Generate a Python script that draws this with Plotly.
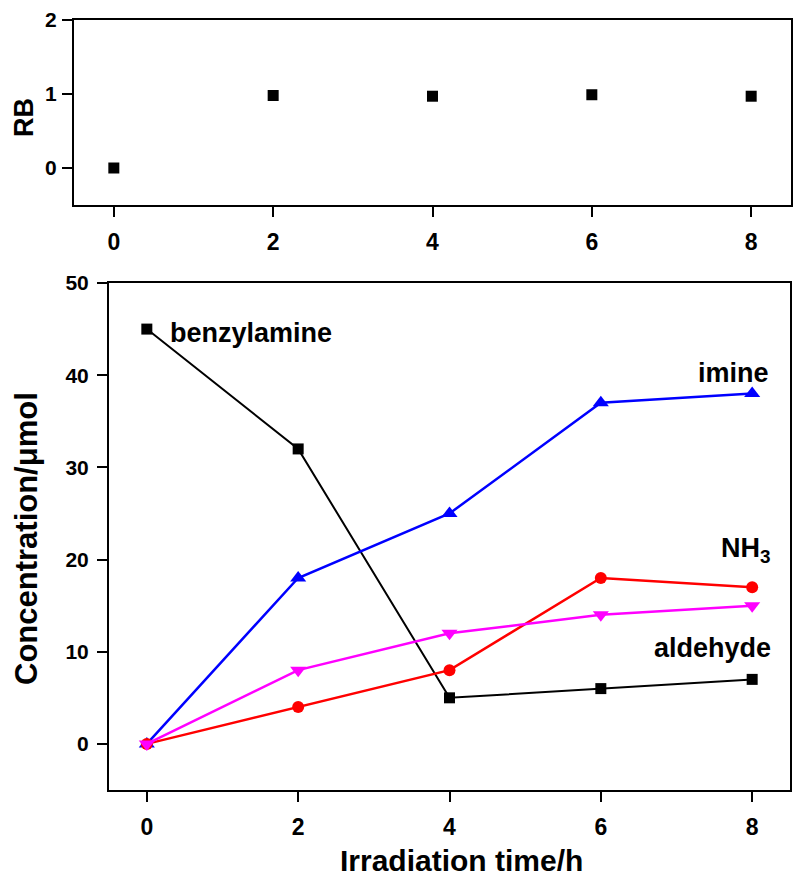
import plotly.graph_objects as go

W, H = 795, 881

time_h = [0, 2, 4, 6, 8]
rb_values = [0.0, 0.98, 0.97, 0.99, 0.97]

benzylamine = [45, 32, 5, 6, 7]
imine = [0, 18, 25, 37, 38]
nh3 = [0, 4, 8, 18, 17]
aldehyde = [0, 8, 12, 14, 15]

x_ticks = [0, 2, 4, 6, 8]
rb_ticks = [0, 1, 2]
conc_ticks = [0, 10, 20, 30, 40, 50]

FONT = "Liberation Sans, Arial, Helvetica, sans-serif"

fig = go.Figure()

# top panel
fig.add_trace(go.Scatter(x=time_h, y=rb_values, mode="markers",
                         marker=dict(symbol="square", size=11, color="black"),
                         xaxis="x", yaxis="y", showlegend=False))

# bottom panel
series = [
    (benzylamine, "black", "square", 11, 2),
    (imine, "#0000ff", "triangle-up", 14, 2.5),
    (nh3, "#ff0000", "circle", 12, 2.5),
    (aldehyde, "#ff00ff", "triangle-down", 14, 2.5),
]
for vals, col, sym, sz, lw in series:
    fig.add_trace(go.Scatter(x=time_h, y=vals, mode="lines+markers",
                             line=dict(color=col, width=lw),
                             marker=dict(symbol=sym, size=sz, color=col),
                             xaxis="x2", yaxis="y2", showlegend=False))

def px_x(p):
    return p / W

def px_y(p):
    return 1 - p / H

axis_common = dict(showline=True, linecolor="black", linewidth=2, mirror=True,
                   ticks="outside", ticklen=10, tickwidth=2, tickcolor="black",
                   showgrid=False, zeroline=False)
xfont = dict(family=FONT, size=23, color="black", weight="bold")
yfont = dict(family=FONT, size=21, color="black", weight="bold")

fig.update_layout(
    width=W, height=H,
    margin=dict(l=0, r=0, t=0, b=0, autoexpand=False),
    paper_bgcolor="white", plot_bgcolor="white",
    xaxis=dict(domain=[px_x(74), px_x(791)], range=[-0.5, 8.5], anchor="y",
               tickvals=x_ticks, ticklabelstandoff=5, tickfont=xfont, **axis_common),
    yaxis=dict(domain=[px_y(205), px_y(20)], range=[-0.5, 2], anchor="x",
               tickvals=rb_ticks, ticklabelstandoff=1, tickfont=yfont, **axis_common),
    xaxis2=dict(domain=[px_x(109), px_x(790)], range=[-0.5, 8.5], anchor="y2",
                tickvals=x_ticks, ticklabelstandoff=5, tickfont=xfont, **axis_common),
    yaxis2=dict(domain=[px_y(790), px_y(283)], range=[-5, 50], anchor="x2",
                tickvals=conc_ticks, ticklabelstandoff=4, tickfont=yfont, **axis_common),
)

ann_font = dict(family=FONT, size=27, color="black", weight="bold")

annotations = [
    dict(text="benzylamine", x=0.28, y=44.6, xref="x2", yref="y2",
         xanchor="left", yanchor="middle", showarrow=False, font=ann_font),
    dict(text="imine", x=8.25, y=40.2, xref="x2", yref="y2",
         xanchor="right", yanchor="middle", showarrow=False, font=ann_font),
    dict(text="NH<sub>3</sub>", x=8.27, y=21.0, xref="x2", yref="y2",
         xanchor="right", yanchor="middle", showarrow=False, font=ann_font),
    dict(text="aldehyde", x=8.27, y=10.4, xref="x2", yref="y2",
         xanchor="right", yanchor="middle", showarrow=False, font=ann_font),
    dict(text="RB", x=px_x(24), y=px_y(118), xref="paper", yref="paper",
         xanchor="center", yanchor="middle", textangle=-90, showarrow=False,
         font=dict(family=FONT, size=27, color="black", weight="bold")),
    dict(text="Concentration/μmol", x=px_x(26), y=px_y(539), xref="paper", yref="paper",
         xanchor="center", yanchor="middle", textangle=-90, showarrow=False,
         font=dict(family=FONT, size=31, color="black", weight="bold")),
    dict(text="Irradiation time/h", x=px_x(461), y=px_y(860), xref="paper", yref="paper",
         xanchor="center", yanchor="middle", showarrow=False,
         font=dict(family=FONT, size=30, color="black", weight="bold")),
]
fig.update_layout(annotations=annotations)

fig.write_html("out.html")
